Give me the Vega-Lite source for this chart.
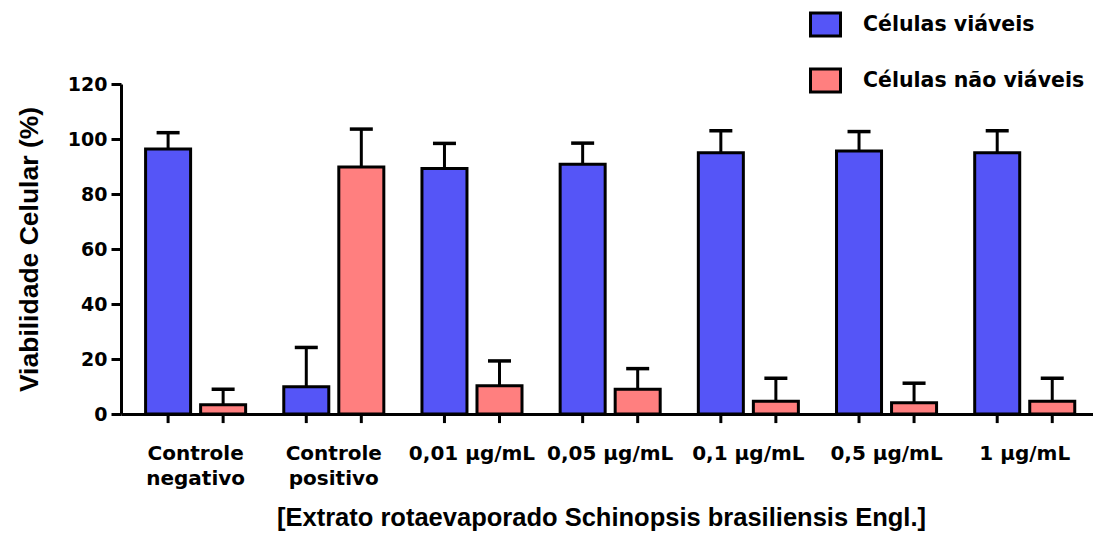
{
  "$schema": "https://vega.github.io/schema/vega-lite/v6.json",
  "autosize": {"type": "none"},
  "width": 972,
  "height": 330,
  "padding": {"left": 121, "top": 84, "right": 0, "bottom": 126},
  "background": "white",
  "config": {
    "view": {"stroke": null},
    "axis": {"grid": false, "domainColor": "black", "domainWidth": 3, "tickColor": "black", "labelColor": "black", "titleColor": "black"}
  },
  "data": {
    "values": [
      {"group": "Controle negativo", "serie": "Células viáveis", "media": 96.4, "superior": 102.3},
      {"group": "Controle negativo", "serie": "Células não viáveis", "media": 3.4, "superior": 9.0},
      {"group": "Controle positivo", "serie": "Células viáveis", "media": 9.9, "superior": 24.2},
      {"group": "Controle positivo", "serie": "Células não viáveis", "media": 89.8, "superior": 103.6},
      {"group": "0,01 µg/mL", "serie": "Células viáveis", "media": 89.3, "superior": 98.4},
      {"group": "0,01 µg/mL", "serie": "Células não viáveis", "media": 10.3, "superior": 19.3},
      {"group": "0,05 µg/mL", "serie": "Células viáveis", "media": 90.8, "superior": 98.5},
      {"group": "0,05 µg/mL", "serie": "Células não viáveis", "media": 9.0, "superior": 16.5},
      {"group": "0,1 µg/mL", "serie": "Células viáveis", "media": 95.0, "superior": 103.0},
      {"group": "0,1 µg/mL", "serie": "Células não viáveis", "media": 4.6, "superior": 13.0},
      {"group": "0,5 µg/mL", "serie": "Células viáveis", "media": 95.6, "superior": 102.7},
      {"group": "0,5 µg/mL", "serie": "Células não viáveis", "media": 4.1, "superior": 11.2},
      {"group": "1 µg/mL", "serie": "Células viáveis", "media": 95.0, "superior": 103.0},
      {"group": "1 µg/mL", "serie": "Células não viáveis", "media": 4.6, "superior": 13.0}
    ]
  },
  "encoding": {
    "x": {
      "field": "group", "type": "nominal", "sort": null,
      "scale": {"paddingInner": 0.276, "paddingOuter": 0.155, "align": 0.574},
      "axis": {
        "title": "[Extrato rotaevaporado Schinopsis brasiliensis Engl.]",
        "titleFont": "Liberation Sans", "titleFontSize": 25.5, "titleFontWeight": "bold", "titlePadding": 17, "titleX": 480,
        "labelFont": "DejaVu Sans", "labelFontSize": 20, "labelFontWeight": "bold",
        "labelAngle": 0, "labelOverlap": false, "labelPadding": 29, "labelLineHeight": 25,
        "labelExpr": "test(/^Controle/, datum.label) ? split(datum.label, ' ') : datum.label",
        "ticks": false
      }
    },
    "xOffset": {"field": "serie", "type": "nominal", "sort": null, "scale": {"paddingInner": 0.182, "paddingOuter": 0}}
  },
  "layer": [
    {
      "mark": {"type": "bar", "stroke": "black", "strokeWidth": 3},
      "encoding": {
        "y": {
          "field": "media", "type": "quantitative",
          "scale": {"domain": [0, 120], "nice": false},
          "axis": {
            "title": "Viabilidade Celular (%)", "values": [0, 20, 40, 60, 80, 100, 120],
            "titleFont": "Liberation Sans", "titleFontSize": 26.5, "titleFontWeight": "bold", "titlePadding": 24,
            "labelFont": "DejaVu Sans", "labelFontSize": 19, "labelFontWeight": "bold", "labelPadding": 4,
            "tickSize": 10, "tickWidth": 3
          }
        },
        "color": {
          "field": "serie", "type": "nominal", "sort": null,
          "scale": {"domain": ["Células viáveis", "Células não viáveis"], "range": ["#5555f7", "#ff7f7f"]},
          "legend": {
            "title": null, "orient": "none", "legendX": 688, "legendY": -76,
            "symbolType": "M-1,-0.77H1V0.77H-1Z", "symbolSize": 900, "symbolStrokeColor": "black", "symbolStrokeWidth": 3,
            "symbolOpacity": 1,
            "labelFont": "DejaVu Sans", "labelFontSize": 20.5, "labelFontWeight": "bold", "labelColor": "black",
            "labelOffset": 21, "rowPadding": 19, "padding": 0, "labelLimit": 400
          }
        }
      }
    },
    {
      "mark": {"type": "rule", "color": "black", "strokeWidth": 3},
      "encoding": {
        "y": {"field": "media", "type": "quantitative"},
        "y2": {"field": "superior"}
      }
    },
    {
      "mark": {"type": "tick", "color": "black", "size": 23, "thickness": 3.5, "opacity": 1},
      "encoding": {
        "y": {"field": "superior", "type": "quantitative"}
      }
    },
    {
      "mark": {"type": "rule", "color": "black", "strokeWidth": 3},
      "encoding": {
        "y": {"datum": 0},
        "y2": {"datum": -3.3}
      }
    }
  ]
}
